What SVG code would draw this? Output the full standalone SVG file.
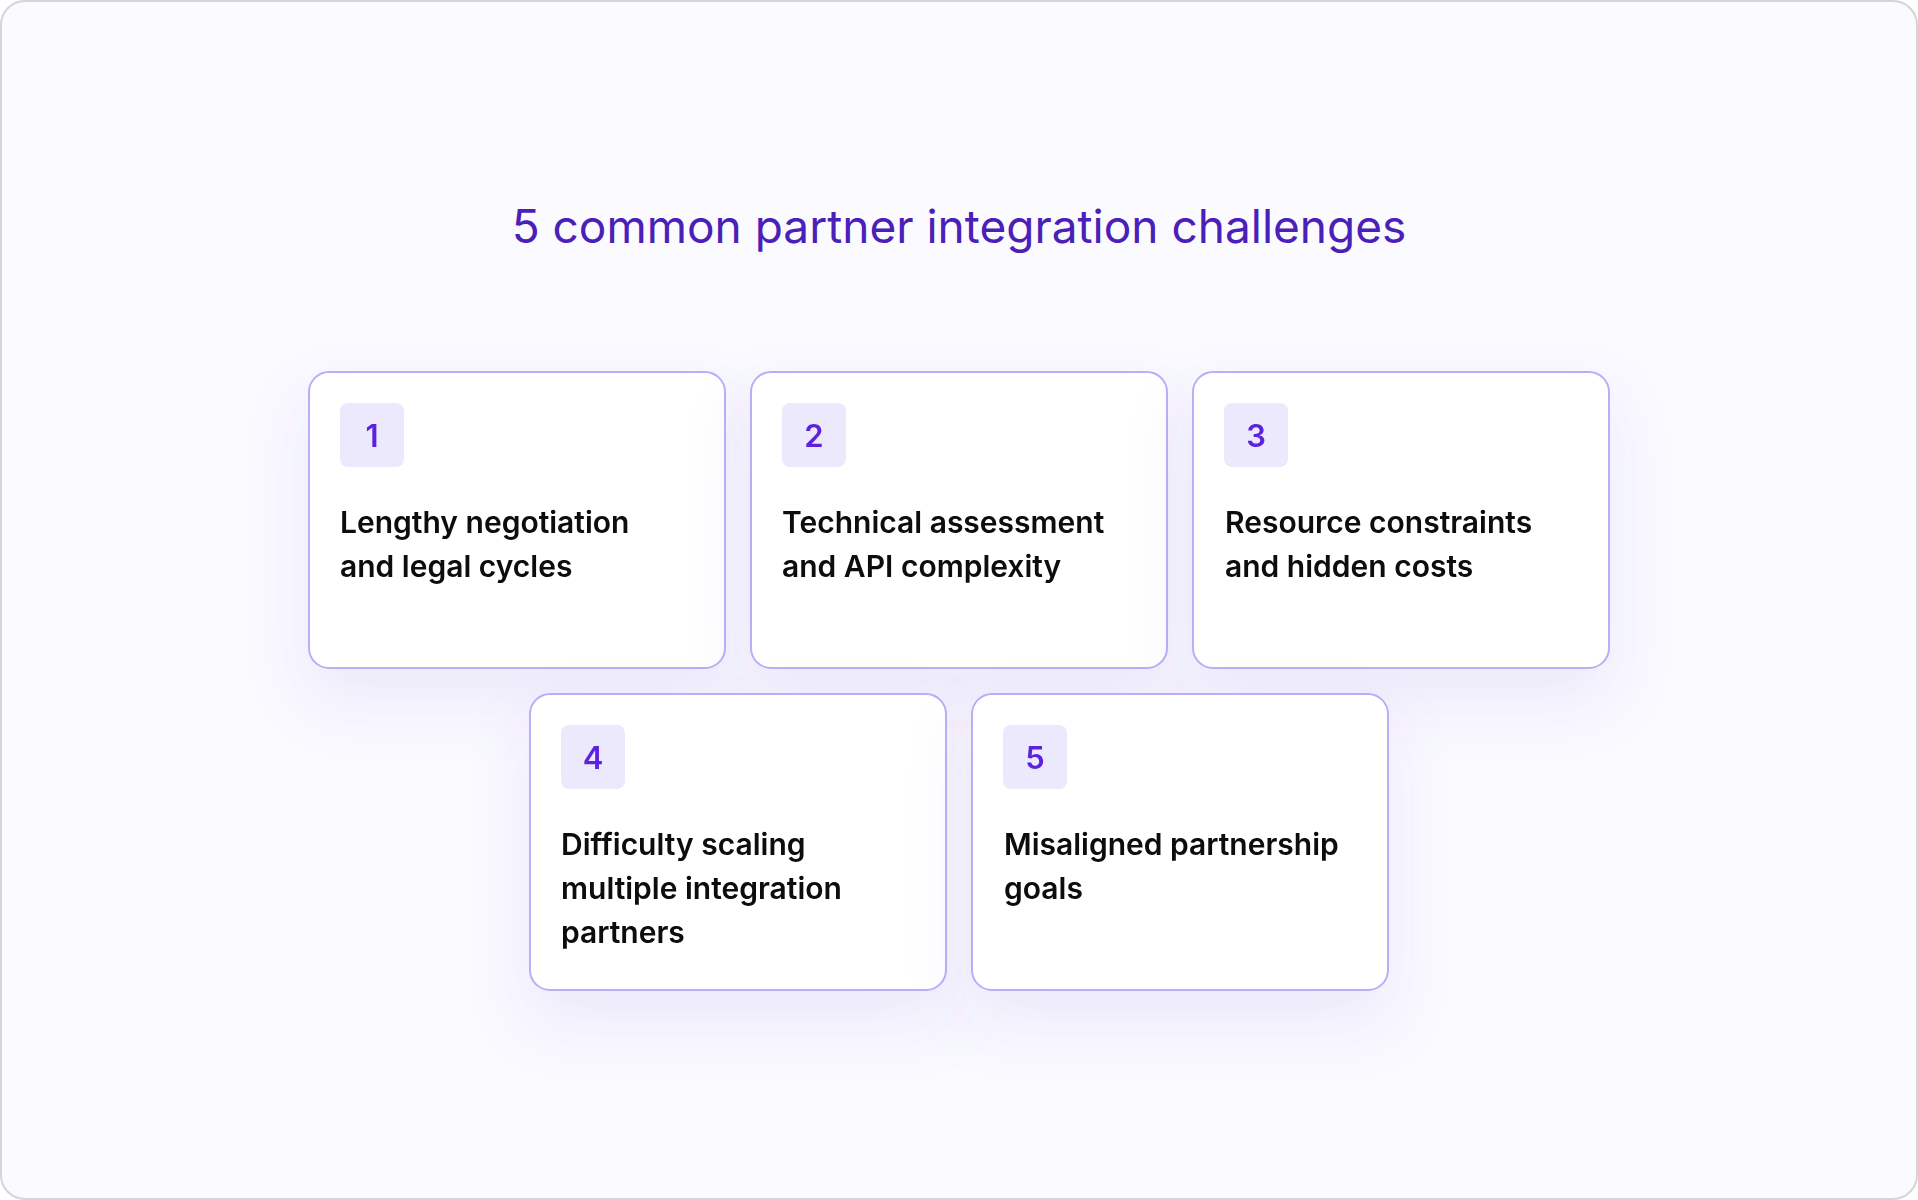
<svg xmlns="http://www.w3.org/2000/svg" width="1918" height="1200" viewBox="0 0 1918 1200">
  <defs>
    <filter id="shadow" x="-30%" y="-30%" width="160%" height="190%">
      <feDropShadow dx="0" dy="30" stdDeviation="32" flood-color="#7048d0" flood-opacity="0.10"/>
    </filter>
    <style>
      .frame { fill: #fafaff; stroke: #d3d5dd; stroke-width: 2; }
      .title { font-family: Inter, "Liberation Sans", sans-serif; font-size: 46px; font-weight: 400; fill: #4a20b8; }
      .card { fill: #ffffff; stroke: #b8aff6; stroke-width: 2; }
      .badge { fill: #ece9fd; }
      .num { font-family: Inter, "Liberation Sans", sans-serif; font-size: 31px; font-weight: 600; fill: #5b24e0; text-anchor: middle; }
      .label { font-family: Inter, "Liberation Sans", sans-serif; font-size: 30px; font-weight: 600; fill: #0a0a0a; }
    </style>
  </defs>
  <rect class="frame" x="1" y="1" width="1916" height="1198" rx="24"/>
  <text class="title" x="959" y="243" text-anchor="middle">5 common partner integration challenges</text>

  <g id="card1" filter="url(#shadow)">
    <rect class="card" x="309" y="372" width="416" height="296" rx="20"/>
    <rect class="badge" x="340" y="403" width="64" height="64" rx="8"/>
    <text class="num" x="372" y="447">1</text>
    <text class="label" x="340" y="533">Lengthy negotiation</text>
    <text class="label" x="340" y="577">and legal cycles</text>
  </g>
  <g id="card2" filter="url(#shadow)">
    <rect class="card" x="751" y="372" width="416" height="296" rx="20"/>
    <rect class="badge" x="782" y="403" width="64" height="64" rx="8"/>
    <text class="num" x="814" y="447">2</text>
    <text class="label" x="782" y="533">Technical assessment</text>
    <text class="label" x="782" y="577">and API complexity</text>
  </g>
  <g id="card3" filter="url(#shadow)">
    <rect class="card" x="1193" y="372" width="416" height="296" rx="20"/>
    <rect class="badge" x="1224" y="403" width="64" height="64" rx="8"/>
    <text class="num" x="1256" y="447">3</text>
    <text class="label" x="1225" y="533">Resource constraints</text>
    <text class="label" x="1225" y="577">and hidden costs</text>
  </g>
  <g id="card4" filter="url(#shadow)">
    <rect class="card" x="530" y="694" width="416" height="296" rx="20"/>
    <rect class="badge" x="561" y="725" width="64" height="64" rx="8"/>
    <text class="num" x="593" y="769">4</text>
    <text class="label" x="561" y="855">Difficulty scaling</text>
    <text class="label" x="561" y="899">multiple integration</text>
    <text class="label" x="561" y="943">partners</text>
  </g>
  <g id="card5" filter="url(#shadow)">
    <rect class="card" x="972" y="694" width="416" height="296" rx="20"/>
    <rect class="badge" x="1003" y="725" width="64" height="64" rx="8"/>
    <text class="num" x="1035" y="769">5</text>
    <text class="label" x="1004" y="855">Misaligned partnership</text>
    <text class="label" x="1004" y="899">goals</text>
  </g>
  <g id="connectors"></g>
</svg>
